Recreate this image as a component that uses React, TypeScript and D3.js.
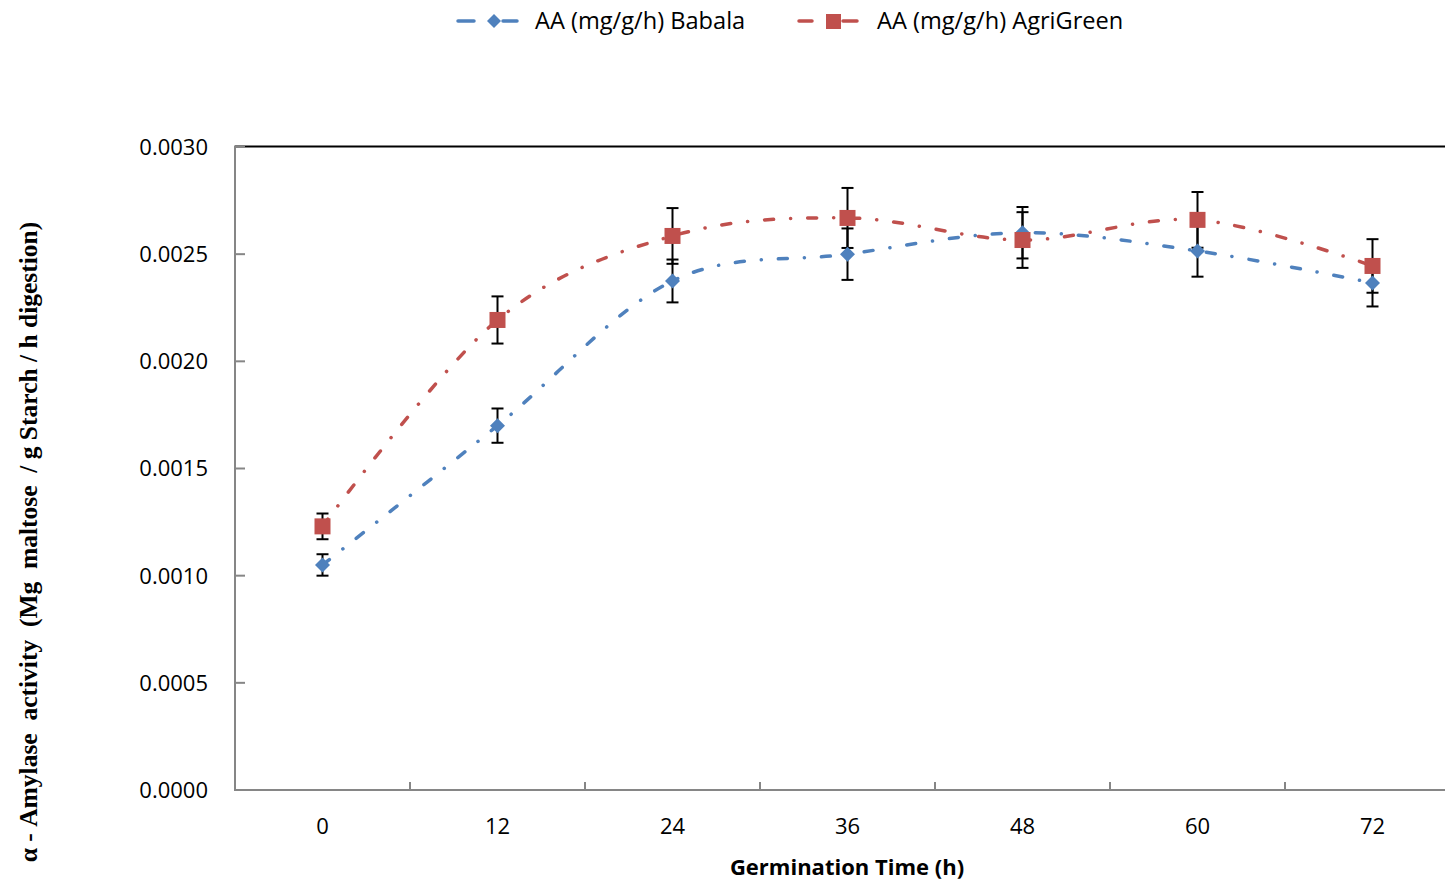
import React from "react";
import * as d3 from "d3";

const categories = ["0", "12", "24", "36", "48", "60", "72"];
const babala = [0.00105, 0.0017, 0.002375, 0.0025, 0.0026, 0.002515, 0.002366];
const babalaErr = [0.00005, 0.00008, 0.0001, 0.00012, 0.00012, 0.00012, 0.00011];
const agri = [0.00123, 0.002193, 0.002585, 0.002669, 0.002566, 0.00266, 0.002445];
const agriErr = [0.00006, 0.00011, 0.00013, 0.00014, 0.00013, 0.00013, 0.000125];
const yTicks = [0, 0.0005, 0.001, 0.0015, 0.002, 0.0025, 0.003];
const seriesNames = ["AA (mg/g/h) Babala", "AA (mg/g/h) AgriGreen"];

const W = 1445;
const H = 884;
const left = 235;
const top = 147;
const bottom = 790;
const BLUE = "#4F81BD";
const RED = "#C0504D";
const GRAY = "#868686";
const FONT = "'Open Sans', sans-serif";
const DASH = "9 17 0.1 17";

export default function App() {
  const x = d3.scaleBand<string>().domain(categories).range([left, left + 175 * 7]).padding(0);
  const y = d3.scaleLinear().domain([0, 0.003]).range([bottom, top]);
  const cx = (c: string) => (x(c) as number) + x.bandwidth() / 2;
  const line = d3
    .line<number>()
    .x((_, i) => cx(categories[i]))
    .y((d) => y(d))
    .curve(d3.curveCardinal.tension(0));
  const fmt = d3.format(".4f");
  const boundaries = categories.slice(1).map((c) => x(c) as number);

  const errBars = (vals: number[], errs: number[], key: string) =>
    vals.map((v, i) => {
      const px = cx(categories[i]);
      const y1 = y(v + errs[i]);
      const y2 = y(v - errs[i]);
      return (
        <g key={key + i} stroke="#000" strokeWidth={2}>
          <line x1={px} x2={px} y1={y1} y2={y2} />
          <line x1={px - 6} x2={px + 6} y1={y1} y2={y1} />
          <line x1={px - 6} x2={px + 6} y1={y2} y2={y2} />
        </g>
      );
    });

  const diamond = (px: number, py: number, r: number) =>
    `M${px},${py - r}L${px + r},${py}L${px},${py + r}L${px - r},${py}Z`;

  return (
    <svg width={W} height={H} style={{ position: "absolute", left: 0, top: 0, background: "#fff" }}>
      {/* top border */}
      <line x1={left} x2={W} y1={top - 0.5} y2={top - 0.5} stroke="#000" strokeWidth={2} />
      {/* y axis */}
      <line x1={left} x2={left} y1={top - 1.5} y2={bottom} stroke={GRAY} strokeWidth={2} />
      {yTicks.map((t) => (
        <g key={"yt" + t}>
          <line x1={left} x2={left + 10} y1={y(t)} y2={y(t)} stroke={GRAY} strokeWidth={2} />
          <text x={208} y={y(t)} dy="0.36em" textAnchor="end" fontFamily={FONT} fontSize={22} fill="#000">
            {fmt(t)}
          </text>
        </g>
      ))}
      {/* x axis */}
      <line x1={left - 1} x2={W} y1={bottom} y2={bottom} stroke={GRAY} strokeWidth={2} />
      {boundaries.map((b, i) => (
        <line key={"xb" + i} x1={b} x2={b} y1={bottom} y2={bottom - 8} stroke={GRAY} strokeWidth={2} />
      ))}
      {categories.map((c) => (
        <text key={"xl" + c} x={cx(c)} y={826} dy="0.36em" textAnchor="middle" fontFamily={FONT} fontSize={22} fill="#000">
          {c}
        </text>
      ))}
      <text x={847} y={867} dy="0.36em" textAnchor="middle" fontFamily={FONT} fontSize={22} fontWeight="bold" fill="#000">
        Germination Time (h)
      </text>
      <text
        transform={`translate(28,542) rotate(-90)`}
        dy="0.36em"
        textAnchor="middle"
        fontFamily="'Liberation Serif', 'Times New Roman', serif"
        fontSize={25.5}
        fontWeight="bold"
        fill="#000"
        style={{ whiteSpace: "pre" }}
      >
        {"α - Amylase  activity  (Mg  maltose  / g Starch / h digestion)"}
      </text>

      {/* lines */}
      <path d={line(babala) || ""} fill="none" stroke={BLUE} strokeWidth={3.5} strokeDasharray={DASH} strokeLinecap="round" />
      <path d={line(agri) || ""} fill="none" stroke={RED} strokeWidth={3.5} strokeDasharray={DASH} strokeLinecap="round" />

      {/* error bars */}
      {errBars(babala, babalaErr, "be")}
      {errBars(agri, agriErr, "ae")}

      {/* markers */}
      {babala.map((v, i) => (
        <path key={"bm" + i} d={diamond(cx(categories[i]), y(v), 7.5)} fill={BLUE} />
      ))}
      {agri.map((v, i) => (
        <rect key={"am" + i} x={cx(categories[i]) - 8} y={y(v) - 8} width={16} height={16} fill={RED} />
      ))}

      {/* legend */}
      <g>
        <line x1={458} x2={474} y1={21} y2={21} stroke={BLUE} strokeWidth={3.5} strokeLinecap="round" />
        <line x1={503} x2={517} y1={21} y2={21} stroke={BLUE} strokeWidth={3.5} strokeLinecap="round" />
        <path d={diamond(494, 21, 7)} fill={BLUE} />
        <text x={535} y={21} dy="0.36em" fontFamily={FONT} fontSize={23.6} fill="#000">
          {seriesNames[0]}
        </text>
        <line x1={799} x2={812} y1={21} y2={21} stroke={RED} strokeWidth={3.5} strokeLinecap="round" />
        <line x1={843} x2={857} y1={21} y2={21} stroke={RED} strokeWidth={3.5} strokeLinecap="round" />
        <rect x={826} y={14} width={15} height={15} fill={RED} />
        <text x={877} y={21} dy="0.36em" fontFamily={FONT} fontSize={23.6} fill="#000">
          {seriesNames[1]}
        </text>
      </g>
    </svg>
  );
}
